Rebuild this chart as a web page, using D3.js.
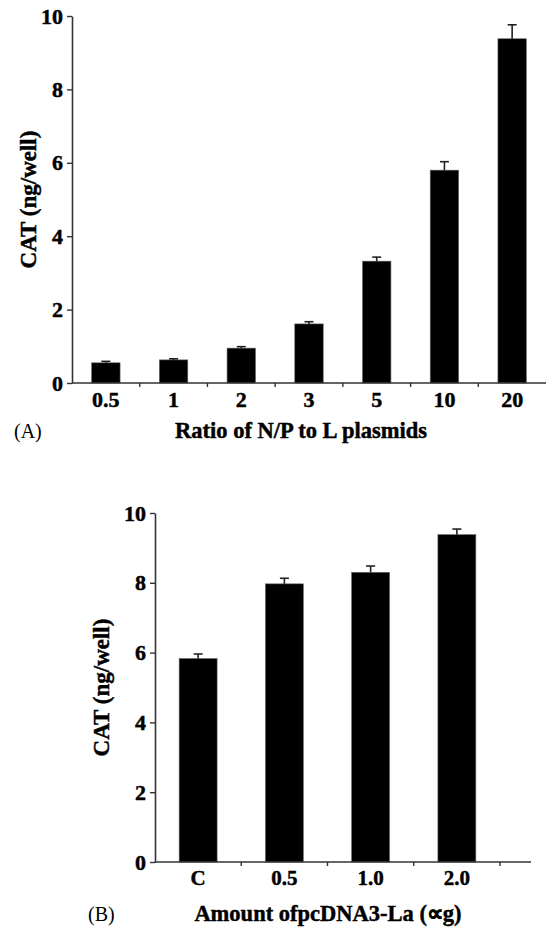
<!DOCTYPE html>
<html>
<head>
<meta charset="utf-8">
<script src="https://cdn.jsdelivr.net/npm/d3@7"></script>
<style>
  body { margin: 0; background: #fff; }
  svg text { font-family: "Times New Roman", "Liberation Serif", Tinos, Times, serif !important; fill: #000; }
  svg text.heavy { stroke: #000; stroke-width: 0.45px; }
</style>
</head>
<body>
<div id="chart"></div>
<script>
// panel A
var ratioLabels = ['0.5', '1', '2', '3', '5', '10', '20'];
var ratioValues = [0.55, 0.63, 0.95, 1.61, 3.32, 5.80, 9.38];
var ratioErrors = [0.04, 0.03, 0.04, 0.06, 0.11, 0.23, 0.38];

// panel B
var amountLabels = ['C', '0.5', '1.0', '2.0'];
var amountValues = [5.83, 7.97, 8.30, 9.38];
var amountErrors = [0.13, 0.16, 0.18, 0.16];

var yTicks = [0, 2, 4, 6, 8, 10];

var svg = d3.select('#chart').append('svg')
    .attr('width', 546)
    .attr('height', 928)
    .attr('font-family', '"Times New Roman", "Liberation Serif", serif');

function panel(opt) {
  var g = svg.append('g');
  var x = d3.scaleBand()
      .domain(opt.labels)
      .range([opt.left, opt.bandRight])
      .paddingInner(opt.pad)
      .paddingOuter(opt.pad / 2);
  var y = d3.scaleLinear().domain([0, 10]).range([opt.bottom, opt.top]);

  var rows = opt.labels.map(function(l, i) {
    return { label: l, value: opt.values[i], err: opt.errors[i] };
  });

  // bars
  g.selectAll('rect.bar').data(rows).enter().append('rect')
      .attr('class', 'bar')
      .attr('x', function(d) { return x(d.label); })
      .attr('y', function(d) { return y(d.value); })
      .attr('width', x.bandwidth())
      .attr('height', function(d) { return y(0) - y(d.value); })
      .attr('fill', '#000')
      .attr('stroke', '#666')
      .attr('stroke-width', 0.6);

  // error bars (upper only)
  var eb = g.selectAll('g.err').data(rows).enter().append('g')
      .attr('class', 'err')
      .attr('stroke', '#222')
      .attr('stroke-width', 1.6);
  eb.append('line')
      .attr('x1', function(d) { return x(d.label) + x.bandwidth() / 2; })
      .attr('x2', function(d) { return x(d.label) + x.bandwidth() / 2; })
      .attr('y1', function(d) { return y(d.value); })
      .attr('y2', function(d) { return y(d.value + d.err); });
  eb.append('line')
      .attr('x1', function(d) { return x(d.label) + x.bandwidth() / 2 - 4.5; })
      .attr('x2', function(d) { return x(d.label) + x.bandwidth() / 2 + 4.5; })
      .attr('y1', function(d) { return y(d.value + d.err); })
      .attr('y2', function(d) { return y(d.value + d.err); });

  // y axis
  var yAxis = g.append('g')
      .attr('transform', 'translate(' + opt.left + ',0)')
      .call(d3.axisLeft(y).tickValues(yTicks).tickSize(5).tickPadding(4).tickSizeOuter(0));
  yAxis.attr('font-family', null).attr('font-size', null);
  yAxis.select('.domain').attr('stroke', '#333').attr('stroke-width', 1.6);
  yAxis.selectAll('.tick line').attr('stroke', '#333').attr('stroke-width', 1.4);
  yAxis.selectAll('.tick text')
      .attr('class', 'heavy')
      .style('font-weight', 'bold')
      .style('font-size', '22px')
      .attr('fill', '#000');

  // x axis: line, ticks between categories, labels under bars
  g.append('line')
      .attr('x1', opt.left).attr('x2', opt.axisRight)
      .attr('y1', y(0)).attr('y2', y(0))
      .attr('stroke', '#333').attr('stroke-width', 1.6);
  var step = x.step();
  var bounds = opt.labels.slice(1).map(function(l) { return x(l) - step * opt.pad / 2; });
  if (opt.lastTick) bounds.push(x(opt.labels[opt.labels.length - 1]) + x.bandwidth() + step * opt.pad / 2);
  g.selectAll('line.xt').data(bounds).enter().append('line')
      .attr('class', 'xt')
      .attr('x1', function(d) { return d; }).attr('x2', function(d) { return d; })
      .attr('y1', y(0)).attr('y2', y(0) + 4)
      .attr('stroke', '#333').attr('stroke-width', 1.4);
  g.selectAll('text.xl').data(rows).enter().append('text')
      .attr('class', 'xl heavy')
      .attr('x', function(d) { return x(d.label) + x.bandwidth() / 2; })
      .attr('y', y(0) + opt.labelGap)
      .attr('text-anchor', 'middle')
      .style('font-weight', 'bold')
      .style('font-size', opt.xFont + 'px')
      .text(function(d) { return d.label; });

  // axis titles
  g.append('text')
      .attr('class', 'heavy')
      .attr('transform', 'translate(' + opt.yTitleX + ',' + ((opt.top + opt.bottom) / 2) + ') rotate(-90)')
      .attr('text-anchor', 'middle')
      .attr('dy', '0.35em')
      .style('font-weight', 'bold')
      .style('font-size', '23px')
      .text('CAT (ng/well)');
  g.append('text')
      .attr('class', 'heavy')
      .attr('x', opt.titleX)
      .attr('y', opt.titleY)
      .attr('text-anchor', 'middle')
      .style('font-weight', 'bold')
      .style('font-size', '22.5px')
      .text(opt.title);
  g.append('text')
      .attr('x', opt.tagX)
      .attr('y', opt.titleY)
      .style('font-size', '20px')
      .text(opt.tag);
}

panel({
  labels: ratioLabels, values: ratioValues, errors: ratioErrors,
  left: 72, bandRight: 546, axisRight: 546, lastTick: false,
  top: 16, bottom: 383, pad: 0.58,
  labelGap: 24, xFont: 22,
  yTitleX: 28, titleX: 301, titleY: 438,
  title: 'Ratio of N/P to L plasmids', tag: '(A)', tagX: 14
});

panel({
  labels: amountLabels, values: amountValues, errors: amountErrors,
  left: 155, bandRight: 500, axisRight: 531, lastTick: true,
  top: 513, bottom: 862, pad: 0.56,
  labelGap: 23, xFont: 21,
  yTitleX: 101, titleX: 328, titleY: 921,
  title: 'Amount ofpcDNA3-La (\u221Dg)', tag: '(B)', tagX: 88
});
</script>
</body>
</html>
